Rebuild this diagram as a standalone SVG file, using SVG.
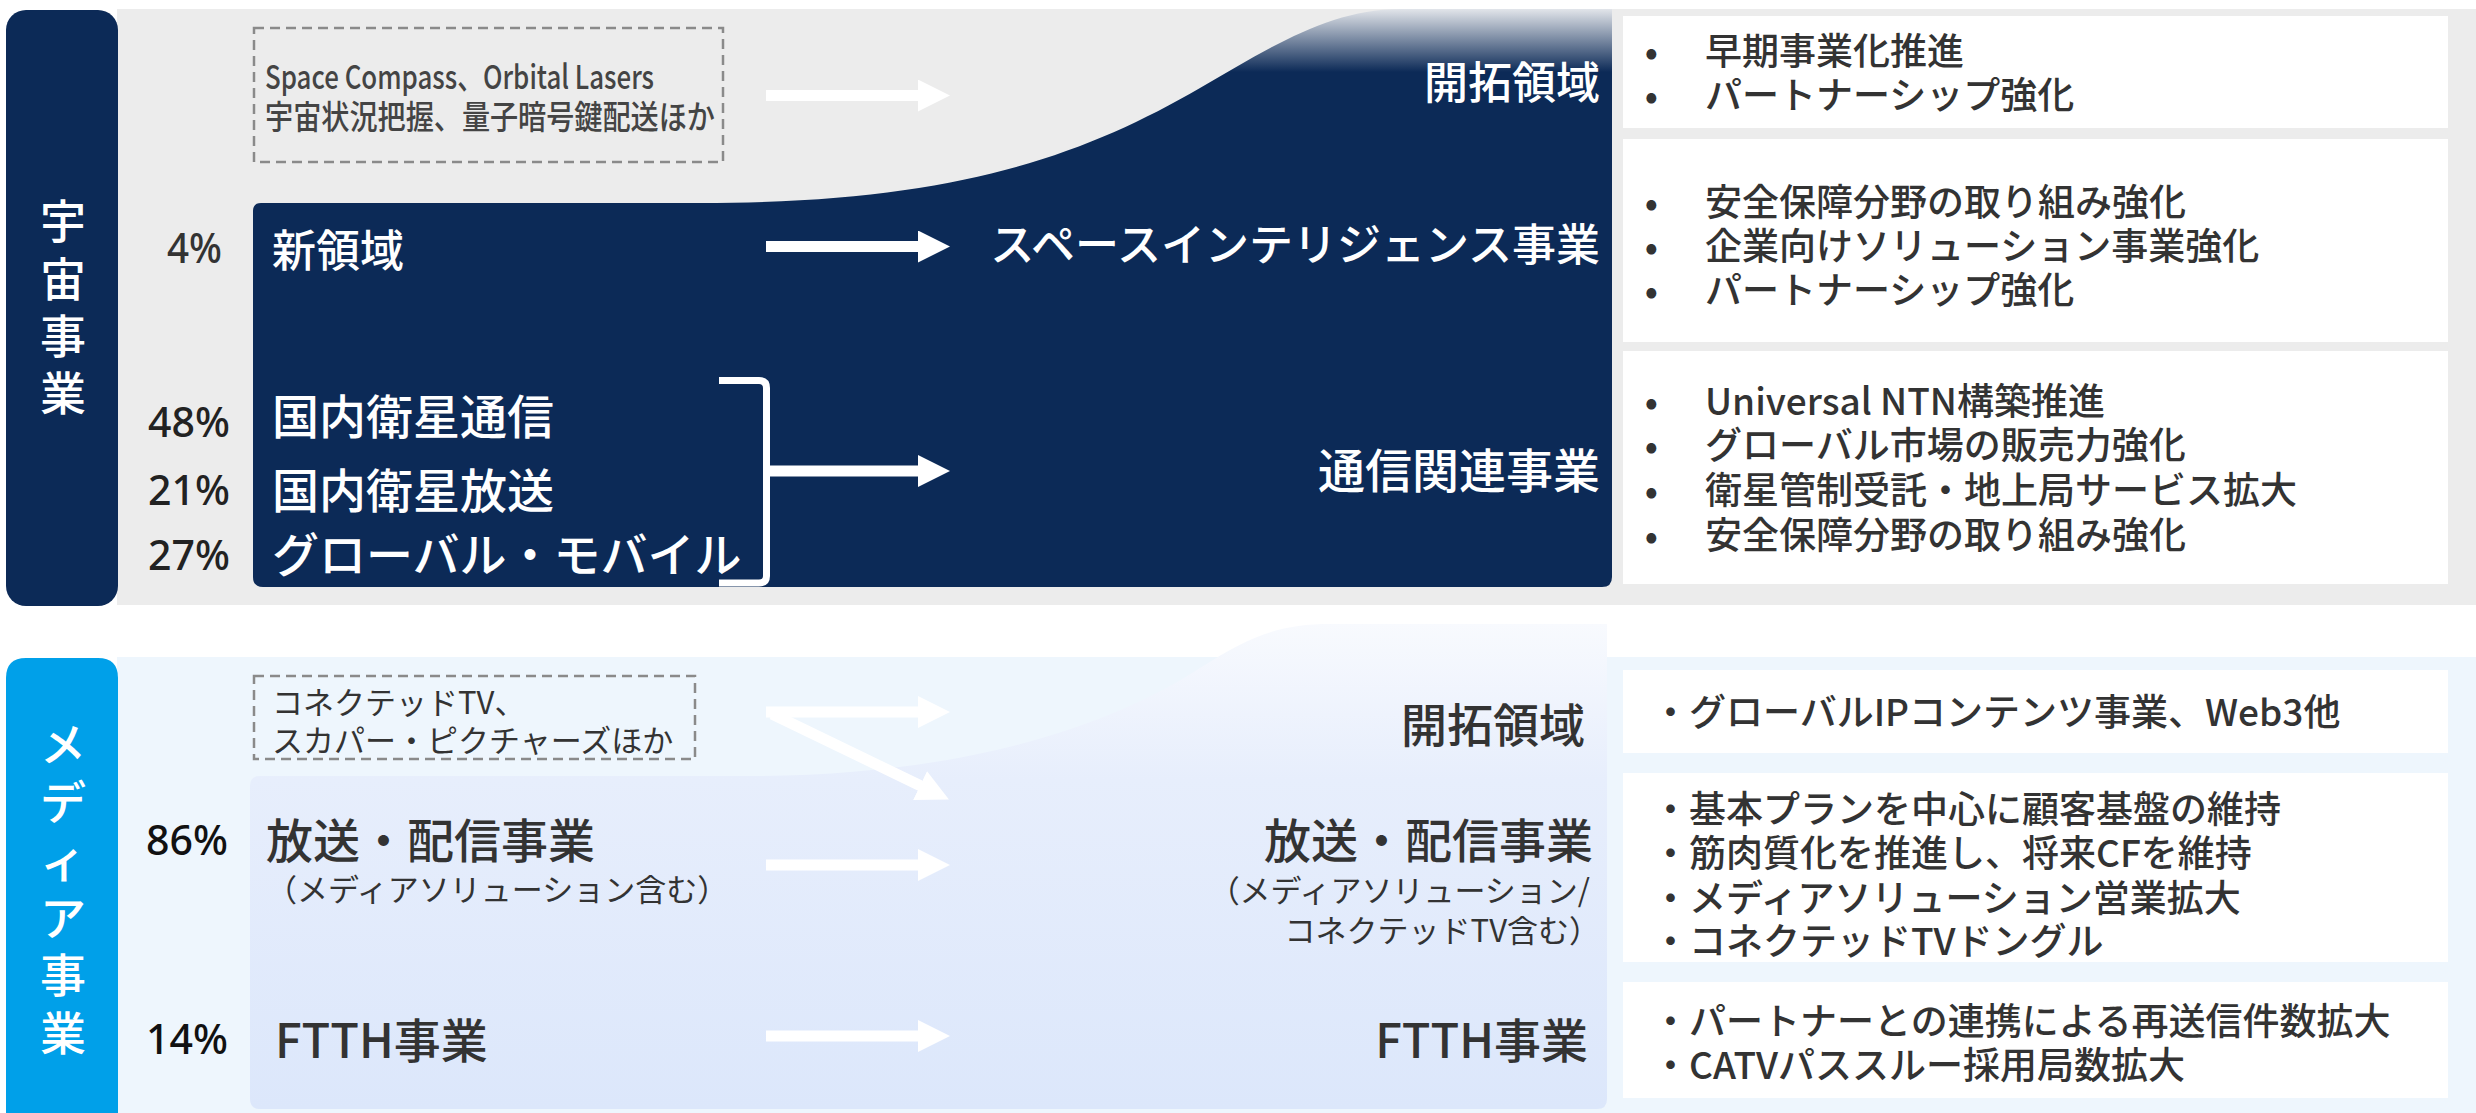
<svg xmlns="http://www.w3.org/2000/svg" width="2476" height="1113" viewBox="0 0 2476 1113">
<style>
.jp{font-family:"Noto Sans CJK JP","Noto Sans",sans-serif;dominant-baseline:central}
.num{font-family:"Noto Sans","Noto Sans CJK JP",sans-serif;font-size:42px;font-weight:500;text-anchor:end;dominant-baseline:central}
.w{fill:#ffffff}
.d{fill:#333333}
.m{font-weight:500}
.big{font-size:47px}
.vert{font-size:46px;text-anchor:middle;fill:#ffffff;font-weight:500}
.end{text-anchor:end}
.box{fill:#ffffff}
.dash{fill:none;stroke:#8a8a8a;stroke-width:2.5;stroke-dasharray:10 6}
.bul{font-size:37px;fill:#333333;font-weight:500}
.bul2{font-size:37px;fill:#333333;font-weight:500}
.arr{stroke:#ffffff;stroke-width:11;fill:none;marker-end:url(#ah)}
</style>
<defs>
<marker id="ah" markerUnits="userSpaceOnUse" markerWidth="33" markerHeight="32" refX="1" refY="16" orient="auto" viewBox="0 0 33 32">
<path d="M0,0 L32,16 L0,32 Z" fill="#ffffff"/>
</marker>
<linearGradient id="navyFade" gradientUnits="userSpaceOnUse" x1="0" y1="9" x2="0" y2="72">
<stop offset="0" stop-color="#e2e5ea"/>
<stop offset="1" stop-color="#0c2a57"/>
</linearGradient>
<linearGradient id="lightPanel" gradientUnits="userSpaceOnUse" x1="0" y1="624" x2="0" y2="1109">
<stop offset="0" stop-color="#f8fafe"/>
<stop offset="0.32" stop-color="#e7eefc"/>
<stop offset="1" stop-color="#dce7fb"/>
</linearGradient>
</defs>

<!-- backgrounds -->
<g id="space-section">
<rect x="117" y="9" width="2359" height="596" fill="#ececec"/>
<rect x="6" y="10" width="112" height="596" rx="20" fill="#0c2a57"/>
<text class="jp vert" x="63"><tspan x="63" y="218">宇</tspan><tspan x="63" y="276">宙</tspan><tspan x="63" y="333">事</tspan><tspan x="63" y="390">業</tspan></text>
</g>

<g id="media-section">
<rect x="117" y="657" width="2359" height="456" fill="#eef6fd"/>
<path d="M6,678 Q6,658 26,658 L98,658 Q118,658 118,678 L118,1113 L6,1113 Z" fill="#00a0e9"/>
<text class="jp vert" x="63"><tspan x="63" y="741">メ</tspan><tspan x="63" y="799">デ</tspan><tspan x="63" y="857">ィ</tspan><tspan x="63" y="915">ア</tspan><tspan x="63" y="972">事</tspan><tspan x="63" y="1030">業</tspan></text>
</g>

<g id="space-panel">
<path d="M253,211 Q253,203 261,203 L700,203 C950,203 1080,157.6 1200,88 C1270,47.4 1330,9 1400,9 L1612,9 L1612,577 Q1612,587 1602,587 L263,587 Q253,587 253,577 Z" fill="url(#navyFade)"/>
</g>

<g id="media-panel">
<path d="M250,786 Q250,776 260,776 L760,776 C980,774 1120,720 1200,668 C1250,636 1280,624 1330,624 L1607,624 L1607,1099 Q1607,1109 1597,1109 L260,1109 Q250,1109 250,1099 Z" fill="url(#lightPanel)"/>
</g>

<!-- space nodes -->
<g id="space-candidates">
<rect class="dash" x="254" y="28" width="469" height="134"/>
<text class="jp m" x="265" y="75" font-size="33" fill="#444" textLength="389" lengthAdjust="spacingAndGlyphs">Space Compass、Orbital Lasers</text>
<text class="jp m" x="265" y="115" font-size="33" fill="#444" textLength="450" lengthAdjust="spacingAndGlyphs">宇宙状況把握、量子暗号鍵配送ほか</text>
</g>
<g id="space-new">
<text class="num" x="222" y="246" fill="#333" textLength="55" lengthAdjust="spacingAndGlyphs">4%</text>
<text class="jp w m" x="272" y="248" font-size="44">新領域</text>
</g>
<g id="space-comm">
<text class="num" x="230" y="420" fill="#222" textLength="82" lengthAdjust="spacingAndGlyphs">48%</text>
<text class="jp w m big" x="272" y="413">国内衛星通信</text>
</g>
<g id="space-bcast">
<text class="num" x="230" y="488" fill="#222" textLength="82" lengthAdjust="spacingAndGlyphs">21%</text>
<text class="jp w m big" x="272" y="487">国内衛星放送</text>
</g>
<g id="space-global">
<text class="num" x="230" y="553" fill="#222" textLength="82" lengthAdjust="spacingAndGlyphs">27%</text>
<text class="jp w m big" x="272" y="551">グローバル・モバイル</text>
</g>
<g id="space-target-frontier">
<text class="jp w m end" x="1600" y="80" font-size="44">開拓領域</text>
</g>
<g id="space-target-intel">
<text class="jp w m end" x="1600" y="242" font-size="44">スペースインテリジェンス事業</text>
</g>
<g id="space-target-comm">
<text class="jp w m end big" x="1600" y="467">通信関連事業</text>
</g>

<g id="space-box-1">
<rect class="box" x="1623" y="16" width="825" height="112"/>
<text class="jp bul end" x="1658" y="49">•</text>
<text class="jp bul" x="1705" y="49">早期事業化推進</text>
<text class="jp bul end" x="1658" y="93">•</text>
<text class="jp bul" x="1705" y="93">パートナーシップ強化</text>
</g>
<g id="space-box-2">
<rect class="box" x="1623" y="139" width="825" height="203"/>
<text class="jp bul end" x="1658" y="200">•</text>
<text class="jp bul" x="1705" y="200">安全保障分野の取り組み強化</text>
<text class="jp bul end" x="1658" y="244">•</text>
<text class="jp bul" x="1705" y="244">企業向けソリューション事業強化</text>
<text class="jp bul end" x="1658" y="288">•</text>
<text class="jp bul" x="1705" y="288">パートナーシップ強化</text>
</g>
<g id="space-box-3">
<rect class="box" x="1623" y="351" width="825" height="233"/>
<text class="jp bul end" x="1658" y="399">•</text>
<text class="jp bul" x="1705" y="399">Universal NTN構築推進</text>
<text class="jp bul end" x="1658" y="443">•</text>
<text class="jp bul" x="1705" y="443">グローバル市場の販売力強化</text>
<text class="jp bul end" x="1658" y="488">•</text>
<text class="jp bul" x="1705" y="488">衛星管制受託・地上局サービス拡大</text>
<text class="jp bul end" x="1658" y="533">•</text>
<text class="jp bul" x="1705" y="533">安全保障分野の取り組み強化</text>
</g>

<!-- media nodes -->
<g id="media-candidates">
<rect class="dash" x="254" y="676" width="441" height="83"/>
<text class="jp" x="272" y="700" font-size="31" fill="#333">コネクテッドTV、</text>
<text class="jp" x="272" y="738" font-size="31" fill="#333">スカパー・ピクチャーズほか</text>
</g>
<g id="media-bcast">
<text class="num" x="228" y="838" fill="#111" textLength="82" lengthAdjust="spacingAndGlyphs">86%</text>
<text class="jp d m big" x="266" y="837">放送・配信事業</text>
<text class="jp d" x="266" y="887" font-size="31">（メディアソリューション含む）</text>
</g>
<g id="media-ftth">
<text class="num" x="228" y="1037" fill="#111" textLength="82" lengthAdjust="spacingAndGlyphs">14%</text>
<text class="jp d m big" x="275" y="1037">FTTH事業</text>
</g>
<g id="media-target-frontier">
<text class="jp d m end" x="1585" y="722" font-size="46">開拓領域</text>
</g>
<g id="media-target-bcast">
<text class="jp d m end big" x="1593" y="837">放送・配信事業</text>
<text class="jp d end" x="1590" y="888" font-size="31">（メディアソリューション/</text>
<text class="jp d end" x="1600" y="928" font-size="31">コネクテッドTV含む）</text>
</g>
<g id="media-target-ftth">
<text class="jp d m end big" x="1588" y="1037">FTTH事業</text>
</g>

<g id="media-box-1">
<rect class="box" x="1623" y="670" width="825" height="83"/>
<text class="jp bul2" x="1652" y="710">・グローバルIPコンテンツ事業、Web3他</text>
</g>
<g id="media-box-2">
<rect class="box" x="1623" y="773" width="825" height="189"/>
<text class="jp bul2" x="1652" y="807">・基本プランを中心に顧客基盤の維持</text>
<text class="jp bul2" x="1652" y="851">・筋肉質化を推進し、将来CFを維持</text>
<text class="jp bul2" x="1652" y="896">・メディアソリューション営業拡大</text>
<text class="jp bul2" x="1652" y="939">・コネクテッドTVドングル</text>
</g>
<g id="media-box-3">
<rect class="box" x="1623" y="982" width="825" height="116"/>
<text class="jp bul2" x="1652" y="1019">・パートナーとの連携による再送信件数拡大</text>
<text class="jp bul2" x="1652" y="1063">・CATVパススルー採用局数拡大</text>
</g>

<!-- connectors -->
<g id="connectors">
<line class="arr" x1="766" y1="95.5" x2="919" y2="95.5"/>
<line class="arr" x1="766" y1="246.5" x2="919" y2="246.5"/>
<path d="M719,380.5 L759,380.5 Q766.5,380.5 766.5,388 L766.5,576 Q766.5,583 759,583 L719,583" fill="none" stroke="#ffffff" stroke-width="7"/>
<line class="arr" x1="766.5" y1="471" x2="919" y2="471"/>
<line class="arr" x1="766" y1="712" x2="919" y2="712"/>
<line class="arr" x1="772" y1="714" x2="921" y2="786"/>
<line class="arr" x1="766" y1="865" x2="919" y2="865"/>
<line class="arr" x1="766" y1="1036" x2="919" y2="1036"/>
</g>
</svg>
